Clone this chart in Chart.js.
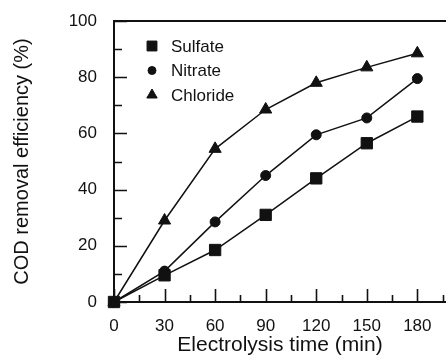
<!DOCTYPE html>
<html>
<head>
<meta charset="utf-8">
<script src="https://cdn.jsdelivr.net/npm/chart.js@4.4.1/dist/chart.umd.min.js"></script>
<style>
  html, body { margin: 0; padding: 0; background: #fff; }
</style>
</head>
<body>
<canvas id="codChart" width="446" height="360"></canvas>
<script>
// electrolysis time (min) and COD removal (%) per electrolyte
const times = [0, 30, 60, 90, 120, 150, 180];
const sulfate = [0, 9.5, 18.5, 31, 44, 56.5, 66];
const nitrate = [0, 11, 28.5, 45, 59.5, 65.5, 79.5];
const chloride = [0, 29, 54.5, 68.5, 78, 83.5, 88.5];

const xTicks = [0, 30, 60, 90, 120, 150, 180];
const xMinor = [15, 45, 75, 105, 135, 165, 195];
const yTicks = [0, 20, 40, 60, 80, 100];
const yMinor = [10, 30, 50, 70, 90];

const ink = '#111';
const fontFamily = "'Liberation Sans', Arial, Helvetica, sans-serif";

Chart.defaults.font.family = fontFamily;
Chart.defaults.color = ink;

const toPoints = (vals) => vals.map((v, i) => ({ x: times[i], y: v }));

const series = [
    { label: 'Sulfate', data: sulfate, style: 'rect', radius: 8 },
    { label: 'Nitrate', data: nitrate, style: 'circle', radius: 5 },
    { label: 'Chloride', data: chloride, style: 'triangle', radius: 7 },
];

// the x scale keeps a few px for its last label; run the plot out to the canvas edge
const stretchX = {
    id: 'stretchX',
    afterLayout(chart) {
        const x = chart.scales.x;
        x.right = chart.width;
        x.width = x.right - x.left;
        x.configure();
        chart.chartArea.right = chart.width;
        chart.chartArea.width = chart.width - chart.chartArea.left;
    },
};

// inward tick marks + top frame line
const frameTicks = {
    id: 'frameTicks',
    afterDraw(chart) {
        const { ctx, chartArea: a, scales: { x, y } } = chart;
        ctx.save();
        ctx.strokeStyle = ink;
        ctx.lineWidth = 2;
        ctx.beginPath();
        ctx.moveTo(a.left, a.top);
        ctx.lineTo(a.right, a.top);
        ctx.stroke();

        ctx.lineWidth = 1.6;
        ctx.beginPath();
        for (const v of yTicks) {
            const py = Math.round(y.getPixelForValue(v)) + 0.5;
            ctx.moveTo(a.left, py);
            ctx.lineTo(a.left + 13, py);
        }
        for (const v of yMinor) {
            const py = Math.round(y.getPixelForValue(v)) + 0.5;
            ctx.moveTo(a.left, py);
            ctx.lineTo(a.left + 8, py);
        }
        for (const v of xTicks) {
            const px = Math.round(x.getPixelForValue(v)) + 0.5;
            ctx.moveTo(px, a.bottom);
            ctx.lineTo(px, a.bottom - 13);
        }
        for (const v of xMinor) {
            const px = Math.round(x.getPixelForValue(v)) + 0.5;
            ctx.moveTo(px, a.bottom);
            ctx.lineTo(px, a.bottom - 7);
        }
        ctx.stroke();
        ctx.restore();
    },
};

// legend box in the upper left of the plot
const insetLegend = {
    id: 'insetLegend',
    afterDraw(chart) {
        const { ctx, chartArea: a } = chart;
        ctx.save();
        ctx.fillStyle = ink;
        ctx.strokeStyle = ink;
        ctx.font = '17px ' + fontFamily;
        ctx.textBaseline = 'middle';
        ctx.textAlign = 'left';
        series.forEach((s, i) => {
            const cy = a.top + 25 + i * 24.5;
            const cx = a.left + 38;
            Chart.helpers.drawPoint(ctx, { pointStyle: s.style, radius: s.radius - 1, rotation: 0, borderWidth: 1 }, cx, cy);
            ctx.fillText(s.label, a.left + 57, cy + 1);
        });
        ctx.restore();
    },
};

new Chart(document.getElementById('codChart'), {
    type: 'line',
    data: {
        datasets: series.map((s) => ({
            label: s.label,
            data: toPoints(s.data),
            borderColor: ink,
            borderWidth: 1.5,
            backgroundColor: ink,
            pointStyle: s.style,
            pointRadius: s.radius,
            pointBorderWidth: 1,
            pointBackgroundColor: ink,
            pointBorderColor: ink,
            tension: 0,
            clip: false,
        })),
    },
    options: {
        responsive: false,
        animation: false,
        devicePixelRatio: 1,
        layout: { padding: { top: 21, right: 0, left: 0, bottom: 0 } },
        plugins: {
            legend: { display: false },
            tooltip: { enabled: false },
        },
        scales: {
            x: {
                type: 'linear',
                min: 0,
                max: 197,
                grid: { display: false, drawTicks: false },
                border: { display: true, color: ink, width: 2 },
                afterBuildTicks: (scale) => { scale.ticks = xTicks.map((v) => ({ value: v })); },
                afterFit: (scale) => { scale.height = 58; },
                ticks: { padding: 14, font: { size: 17 }, maxRotation: 0 },
                title: {
                    display: true,
                    text: 'Electrolysis time (min)',
                    font: { size: 21 },
                    padding: { top: 0, bottom: 2 },
                },
            },
            y: {
                min: 0,
                max: 100,
                grid: { display: false, drawTicks: false },
                border: { display: true, color: ink, width: 2 },
                afterBuildTicks: (scale) => { scale.ticks = yTicks.map((v) => ({ value: v })); },
                afterFit: (scale) => {
                    scale.width = 114;
                    scale.paddingTop = 0;
                    scale.paddingBottom = 0;
                },
                ticks: { padding: 17, font: { size: 17 } },
                title: {
                    display: true,
                    text: 'COD removal efficiency (%)',
                    font: { size: 20 },
                    padding: { top: 10, bottom: 0 },
                },
            },
        },
    },
    plugins: [stretchX, frameTicks, insetLegend],
});
</script>
</body>
</html>
